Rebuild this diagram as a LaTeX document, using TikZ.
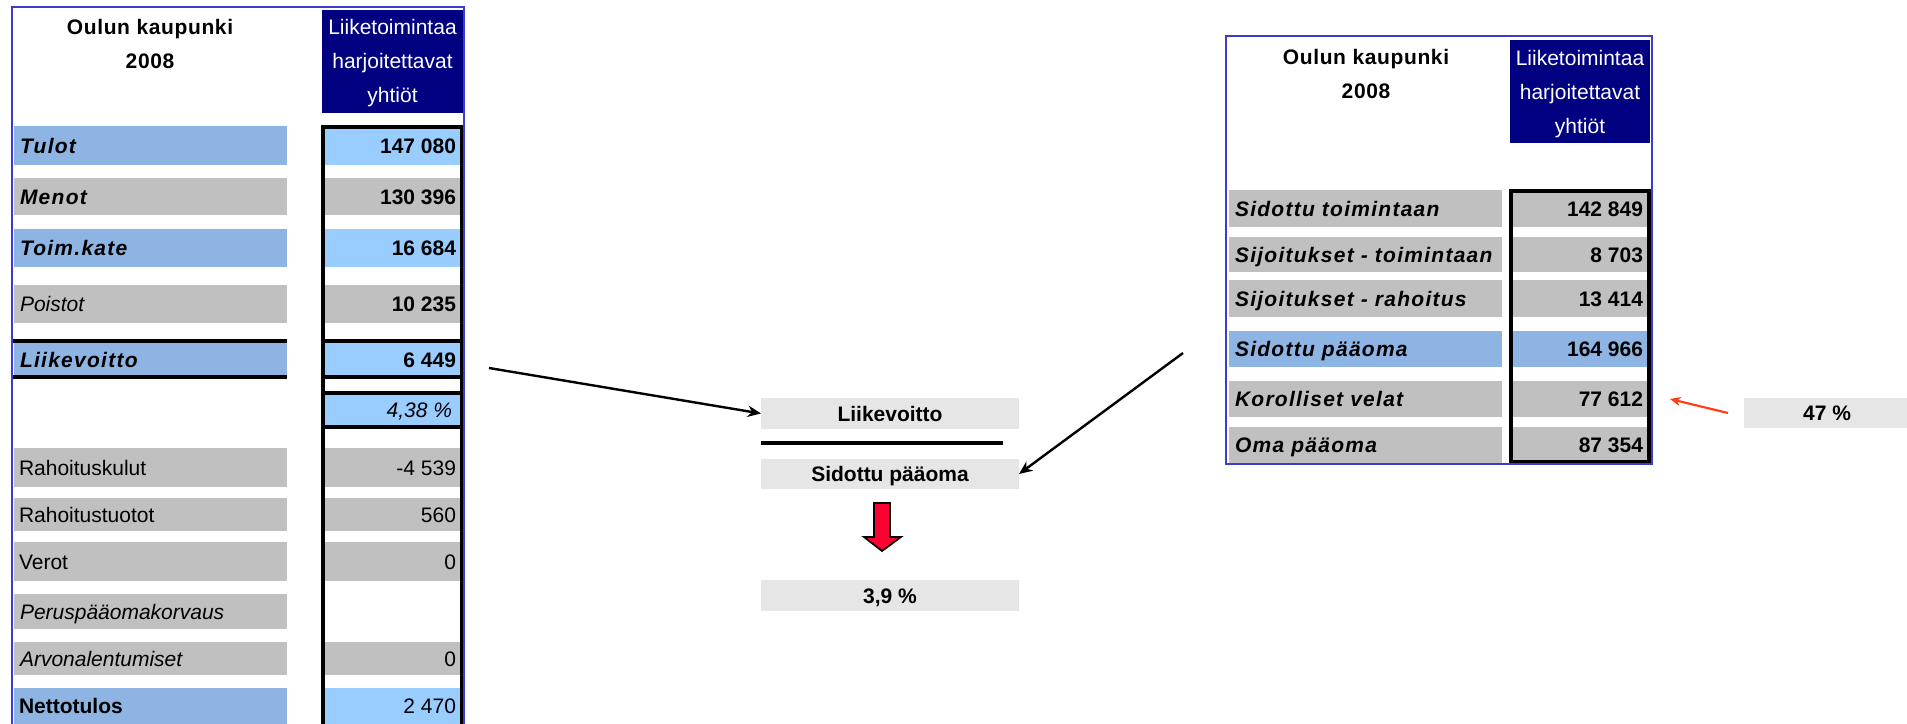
\documentclass[tikz,border=0pt]{standalone}
\usepackage{fontspec}
\setmainfont{Liberation Sans}
\newfontfamily\spc{Liberation Sans}[LetterSpace=6]
\newfontfamily\spch{Liberation Sans}[LetterSpace=3]
\usetikzlibrary{arrows.meta}
\definecolor{tblue}{RGB}{60,60,210}
\definecolor{navy}{RGB}{0,0,128}
\definecolor{lblue}{RGB}{141,180,226}
\definecolor{vblue}{RGB}{153,204,255}
\definecolor{cgray}{RGB}{192,192,192}
\definecolor{pgray}{RGB}{230,230,230}
\definecolor{dred}{RGB}{255,0,51}
\definecolor{ored}{RGB}{255,60,20}
\newcommand\fs{\fontsize{15.75pt}{19pt}\selectfont}
\newcommand\hfs{\fontsize{15.75pt}{25.5pt}\selectfont}
\newcommand\boxcell[6]{\node[cellbase,fill=#6,anchor=north west,minimum width={(#4-#2)*0.75pt},minimum height={(#5-#3)*0.75pt}] (#1) at (#2,#3) {};}
\newcommand\ltext[3]{\node[txt,anchor=west] (#1t) at ([xshift=#2*0.75pt]#1.west) {#3};}
\newcommand\rtext[3]{\node[txt,anchor=east] (#1t) at ([xshift=-#2*0.75pt]#1.east) {#3};}
\newcommand\ctext[2]{\node[txt] (#1t) at (#1.center) {#2};}
\newcommand\bi{\spc\bfseries\itshape}
\begin{document}
\begin{tikzpicture}[x=0.75pt,y=-0.75pt,
  cellbase/.style={draw=none,inner sep=0pt,outer sep=0pt,shape=rectangle},
  txt/.style={inner sep=0pt,outer sep=0pt,text height=11.28pt,text depth=0pt,font=\fs},
  hdr/.style={inner sep=0pt,outer sep=0pt,align=center,anchor=north,font=\hfs},
  tframe/.style={draw=tblue,line width=2pt},
  blk/.style={draw=black,line width=2.4pt},
  conn/.style={draw=black,line width=1.8pt,-{Stealth[length=10pt,width=8.5pt]}},
  rconn/.style={draw=ored,line width=1.6pt,-{Stealth[length=8pt,width=7pt]}}]
\useasboundingbox (0,0) rectangle (1907,724);
\fill[white] (0,0) rectangle (1907,724);

% ---------------- left table ----------------
\boxcell{Lhdr}{322}{10}{463}{113}{navy}
\node[hdr,text=white] (Lhdrt) at (392.5,19) {Liiketoimintaa\\harjoitettavat\\yhtiöt};
\node[hdr,font=\hfs\spch\bfseries] (Ltitle) at (150,19) {Oulun kaupunki\\2008};

\boxcell{tulot}{14}{126}{287}{165}{lblue}\ltext{tulot}{6}{\bi Tulot}
\boxcell{tulotv}{325}{126}{461}{165}{vblue}\rtext{tulotv}{5}{\bfseries 147 080}
\boxcell{menot}{14}{178}{287}{215}{cgray}\ltext{menot}{6}{\bi Menot}
\boxcell{menotv}{325}{178}{461}{215}{cgray}\rtext{menotv}{5}{\bfseries 130 396}
\boxcell{toim}{14}{229}{287}{267}{lblue}\ltext{toim}{6}{\bi Toim.kate}
\boxcell{toimv}{325}{229}{461}{267}{vblue}\rtext{toimv}{5}{\bfseries 16 684}
\boxcell{poist}{14}{285}{287}{323}{cgray}\ltext{poist}{6}{\itshape Poistot}
\boxcell{poistv}{325}{285}{461}{323}{cgray}\rtext{poistv}{5}{\bfseries 10 235}
\boxcell{liike}{14}{342}{287}{377}{lblue}\ltext{liike}{6}{\bi Liikevoitto}
\boxcell{liikev}{325}{342}{461}{377}{vblue}\rtext{liikev}{5}{\bfseries 6 449}
\boxcell{pct}{325}{393}{461}{427}{vblue}\rtext{pct}{9}{\itshape 4,38 \%}
\boxcell{rkul}{14}{448}{287}{487}{cgray}\ltext{rkul}{5}{Rahoituskulut}
\boxcell{rkulv}{325}{448}{461}{487}{cgray}\rtext{rkulv}{5}{-4 539}
\boxcell{rtuo}{14}{498}{287}{531}{cgray}\ltext{rtuo}{5}{Rahoitustuotot}
\boxcell{rtuov}{325}{498}{461}{531}{cgray}\rtext{rtuov}{5}{560}
\boxcell{verot}{14}{542}{287}{581}{cgray}\ltext{verot}{5}{Verot}
\boxcell{verotv}{325}{542}{461}{581}{cgray}\rtext{verotv}{5}{0}
\boxcell{perus}{14}{594}{287}{629}{cgray}\ltext{perus}{6}{\itshape Peruspääomakorvaus}
\boxcell{arvo}{14}{642}{287}{675}{cgray}\ltext{arvo}{6}{\itshape Arvonalentumiset}
\boxcell{arvov}{325}{642}{461}{675}{cgray}\rtext{arvov}{5}{0}
\boxcell{netto}{14}{688}{287}{724}{lblue}\ltext{netto}{5}{\bfseries Nettotulos}
\boxcell{nettov}{325}{688}{461}{724}{vblue}\rtext{nettov}{5}{2 470}

\draw[blk] (13,341) -- (287,341);
\draw[blk] (13,377) -- (287,377);
\draw[blk] (323,730) -- (323,127) -- (462,127) -- (462,730);
\draw[blk] (323,341) -- (462,341);
\draw[blk] (323,377) -- (462,377);
\draw[blk] (323,393) -- (462,393);
\draw[blk] (323,427) -- (462,427);
\draw[tframe] (12,730) -- (12,7) -- (464,7) -- (464,730);

% ---------------- right table ----------------
\boxcell{Rhdr}{1510}{40}{1650}{143}{navy}
\node[hdr,text=white] (Rhdrt) at (1580,50) {Liiketoimintaa\\harjoitettavat\\yhtiöt};
\node[hdr,font=\hfs\spch\bfseries] (Rtitle) at (1366,49) {Oulun kaupunki\\2008};

\boxcell{sto}{1229}{190}{1502}{227}{cgray}\ltext{sto}{6}{\bi Sidottu toimintaan}
\boxcell{stov}{1513}{190}{1647}{227}{cgray}\rtext{stov}{4}{\bfseries 142 849}
\boxcell{sjt}{1229}{237}{1502}{272}{cgray}\ltext{sjt}{6}{\bi Sijoitukset - toimintaan}
\boxcell{sjtv}{1513}{237}{1647}{272}{cgray}\rtext{sjtv}{4}{\bfseries 8 703}
\boxcell{sjr}{1229}{280}{1502}{317}{cgray}\ltext{sjr}{6}{\bi Sijoitukset - rahoitus}
\boxcell{sjrv}{1513}{280}{1647}{317}{cgray}\rtext{sjrv}{4}{\bfseries 13 414}
\boxcell{sp}{1229}{331}{1502}{367}{lblue}\ltext{sp}{6}{\bi Sidottu pääoma}
\boxcell{spv}{1513}{331}{1647}{367}{lblue}\rtext{spv}{4}{\bfseries 164 966}
\boxcell{kor}{1229}{381}{1502}{417}{cgray}\ltext{kor}{6}{\bi Korolliset velat}
\boxcell{korv}{1513}{381}{1647}{417}{cgray}\rtext{korv}{4}{\bfseries 77 612}
\boxcell{oma}{1229}{427}{1502}{463}{cgray}\ltext{oma}{6}{\bi Oma pääoma}
\boxcell{omav}{1513}{427}{1647}{463}{cgray}\rtext{omav}{4}{\bfseries 87 354}

\draw[blk] (1511,191) rectangle (1649,462);
\draw[tframe] (1226,36) rectangle (1652,464);

% ---------------- centre ----------------
\boxcell{cLV}{761}{398}{1019}{429}{pgray}\ctext{cLV}{\bfseries Liikevoitto}
\draw[black,line width=2.6pt] (761,443) -- (1003,443);
\boxcell{cSP}{761}{459}{1019}{489}{pgray}\ctext{cSP}{\bfseries Sidottu pääoma}
\draw[fill=dred,draw=black,line width=1.3pt,line join=miter]
  (874,503) -- (890,503) -- (890,537) -- (901,537) -- (882,551) -- (864,537) -- (874,537) -- cycle;
\boxcell{cRes}{761}{580}{1019}{611}{pgray}\ctext{cRes}{\bfseries 3,9 \%}

\boxcell{c47}{1744}{398}{1907}{428}{pgray}
\node[txt] (c47t) at (1827,413) {\bfseries 47 \%};

\coordinate (a1s) at (489,368);
\coordinate (a2s) at (1183,353);
\coordinate (a3e) at (1670,399);
\draw[conn] (a1s) -- (cLV.west);
\draw[conn] (a2s) -- (cSP.east);
\draw[rconn] ([xshift=-12pt]c47.west) -- (a3e);
\end{tikzpicture}
\end{document}
